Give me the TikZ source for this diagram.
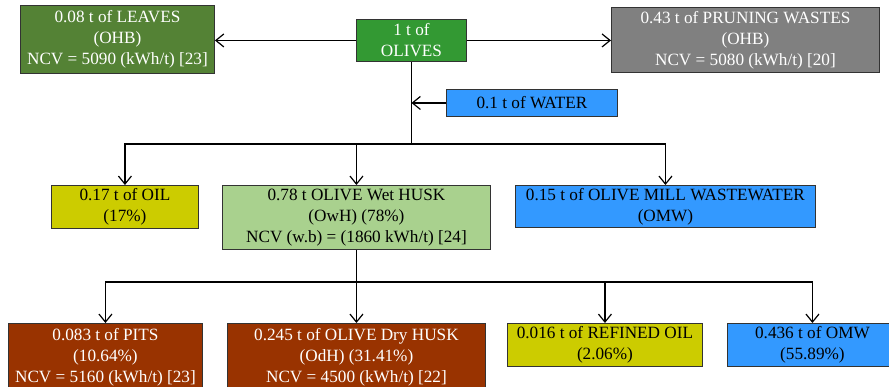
\documentclass[tikz,border=0pt]{standalone}
\usepackage{fontspec}
\setmainfont{Liberation Serif}
\usetikzlibrary{arrows.meta}
\definecolor{cleaves}{HTML}{548235}
\definecolor{colives}{HTML}{339933}
\definecolor{cprune}{HTML}{808080}
\definecolor{cblue}{HTML}{3399FF}
\definecolor{cyell}{HTML}{CCCC00}
\definecolor{chusk}{HTML}{A9D18E}
\definecolor{cbrown}{HTML}{993300}
\definecolor{cborder}{HTML}{333333}
\tikzset{
  box/.style={draw=cborder, line width=0.9pt, anchor=north west, align=center, inner sep=0pt,
    font=\fontsize{17.2}{21}\selectfont},
  wtext/.style={text=white},
  conn/.style={line width=1.4pt, black},
  arr/.style={conn, -{Straight Barb[length=8pt,width=13pt,line width=1.2pt]}}
}
\begin{document}
\begin{tikzpicture}[x=1pt,y=-1pt]
\clip (0,0) rectangle (889,387);
\fill[white] (0,0) rectangle (889,387);
% top row
\node[box, fill=cleaves, wtext, minimum width=194pt, minimum height=68pt] (leaves) at (20,5)
  {0.08 t of LEAVES\\(OHB)\\NCV = 5090 (kWh/t) [23]};
\node[box, fill=colives, wtext, minimum width=110pt, minimum height=42pt] (olives) at (356,19)
  {1 t of\\OLIVES};
\node[box, fill=cprune, wtext, minimum width=268pt, minimum height=65pt] (prune) at (611,7)
  {0.43 t of PRUNING WASTES\\(OHB)\\NCV = 5080 (kWh/t) [20]};
\node[box, fill=cblue, minimum width=171pt, minimum height=27pt] (water) at (446,89)
  {0.1 t of WATER};
% middle row
\node[box, fill=cyell, minimum width=147pt, minimum height=43pt] (oil) at (51,185)
  {0.17 t of OIL\\(17\%)};
\node[box, fill=chusk, minimum width=268pt, minimum height=64pt] (husk) at (222,185)
  {0.78 t OLIVE Wet HUSK\\(OwH) (78\%)\\NCV (w.b) = (1860 kWh/t) [24]};
\node[box, fill=cblue, minimum width=300pt, minimum height=42pt] (omw) at (515,185)
  {0.15 t of OLIVE MILL WASTEWATER\\(OMW)};
% bottom row
\node[box, fill=cbrown, wtext, minimum width=194pt, minimum height=68pt] (pits) at (8,323)
  {0.083 t of PITS\\(10.64\%)\\NCV = 5160 (kWh/t) [23]};
\node[box, fill=cbrown, wtext, minimum width=258pt, minimum height=68pt] (dry) at (227,323)
  {0.245 t of OLIVE Dry HUSK\\(OdH) (31.41\%)\\NCV = 4500 (kWh/t) [22]};
\node[box, fill=cyell, minimum width=195pt, minimum height=43pt] (refined) at (507,323)
  {0.016 t of REFINED OIL\\(2.06\%)};
\node[box, fill=cblue, minimum width=170pt, minimum height=43pt] (omw2) at (727,323)
  {0.436 t of OMW\\(55.89\%)};
% connectors
\coordinate (j1) at (olives.south |- 0,144);
\coordinate (j2) at (husk.south |- 0,282);
\draw[arr] (olives.west) -- (olives.west -| leaves.east);
\draw[arr] (olives.east) -- (olives.east -| prune.west);
\draw[conn] (olives.south) -- (j1);
\draw[arr] (water.west) -- (water.west -| j1);
\draw[arr] (j1) -| (oil.north);
\draw[arr] (j1) -| (omw.north);
\draw[arr] (j1 -| husk.north) -- (husk.north);
\draw[conn] (husk.south) -- (j2);
\draw[arr] (j2) -| (pits.north);
\draw[arr] (j2) -- (dry.north);
\draw[arr] (j2) -| (refined.north);
\draw[arr] (j2) -| (omw2.north);
\end{tikzpicture}
\end{document}
